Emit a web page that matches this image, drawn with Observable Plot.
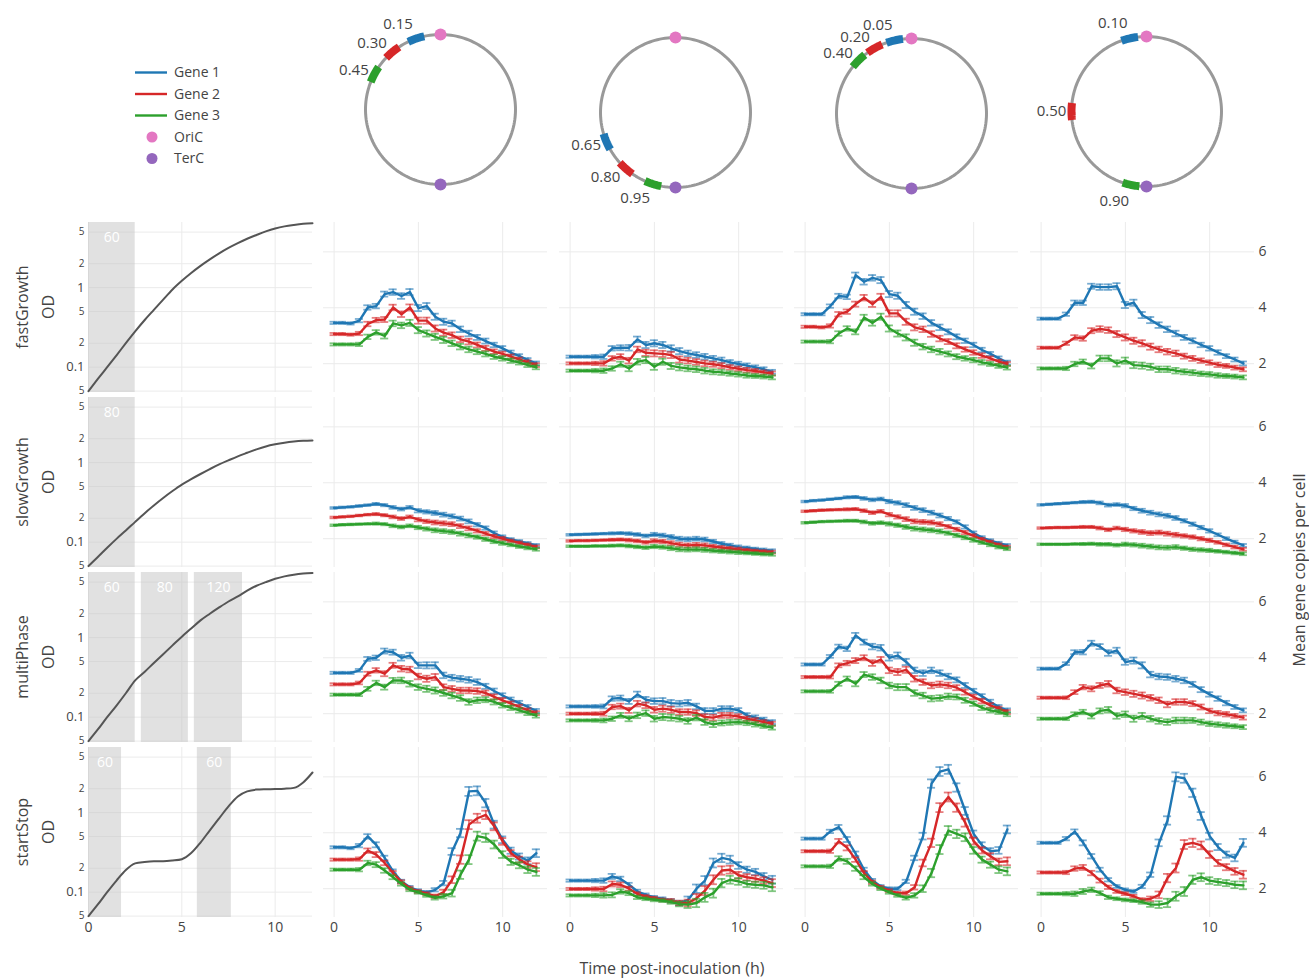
<!DOCTYPE html>
<html><head><meta charset="utf-8">
<script src="https://cdn.jsdelivr.net/npm/d3@7"></script>
<script src="https://cdn.jsdelivr.net/npm/@observablehq/plot@0.6"></script>
<style>
body{margin:0;background:#fff;font-family:"Open Sans",sans-serif;color:#444}
#root{position:relative;width:1309px;height:979px;overflow:hidden;background:#fff}
.rot{position:absolute;transform:rotate(-90deg);transform-origin:50% 50%;text-align:center;white-space:nowrap;font-size:16px;color:#444}
.title{position:absolute;white-space:nowrap;font-size:16px;line-height:16px;color:#444;transform:translate(-50%,-50%)}
</style></head><body><div id="root"></div>
<script>
// ---------------- DATA ----------------
const times = [0,0.5,1,1.5,2,2.5,3,3.5,4,4.5,5,5.5,6,6.5,7,7.5,8,8.5,9,9.5,10,10.5,11,11.5,12];
const strains = ["fastGrowth","slowGrowth","multiPhase","startStop"];
const genes = ["Gene 1","Gene 2","Gene 3"];
const geneColors = ["#1f77b4","#d62728","#2ca02c"];
const markerNames = ["OriC","TerC"];
const markerColors = ["#e377c2","#9467bd"];
const geneLociLabels = [["0.15","0.30","0.45"],["0.65","0.80","0.95"],["0.05","0.20","0.40"],["0.10","0.50","0.90"]];
const geneLociAngle = [[19,40,62],[113,138.5,162.5],[13,29.5,45],[13,90,168]];
const timeTicks = [0,5,10];
const copyTicks = [2,4,6];
const odTickValues = [0.05,0.1,0.2,0.5,1,2,5];
const odTickLabels = ["5","0.1","2","5","1","2","5"];
const odMajorTicks = [0.1,1];

const odFastGrowth = [0.05,0.071,0.1,0.141,0.2,0.282,0.389,0.525,0.708,0.95,1.22,1.53,1.88,2.27,2.7,3.16,3.63,4.12,4.6,5.1,5.55,5.9,6.15,6.35,6.45];
const odSlowGrowth = [0.05,0.065,0.085,0.11,0.14,0.18,0.23,0.29,0.36,0.44,0.53,0.62,0.72,0.83,0.95,1.07,1.2,1.33,1.47,1.6,1.7,1.78,1.84,1.88,1.9];
const odMultiPhase = [0.05,0.07,0.1,0.14,0.2,0.29,0.37,0.48,0.62,0.8,1.03,1.3,1.65,2.0,2.4,2.85,3.3,3.9,4.5,5.0,5.5,5.9,6.2,6.4,6.5];
const odStartStop = [0.05,0.07,0.1,0.14,0.19,0.23,0.24,0.245,0.245,0.25,0.26,0.31,0.42,0.6,0.85,1.2,1.6,1.85,1.95,1.97,1.98,2.0,2.05,2.4,3.2];

const phasesFastGrowth = [{start:0,end:2.5,label:"60"}];
const phasesSlowGrowth = [{start:0,end:2.5,label:"80"}];
const phasesMultiPhase = [{start:0,end:2.5,label:"60"},{start:2.83,end:5.35,label:"80"},{start:5.67,end:8.25,label:"120"}];
const phasesStartStop = [{start:0,end:1.77,label:"60"},{start:5.83,end:7.65,label:"60"}];

const errFastGrowth = [0.04,0.04,0.04,0.06,0.08,0.08,0.09,0.1,0.1,0.11,0.11,0.11,0.11,0.11,0.1,0.1,0.1,0.09,0.09,0.08,0.08,0.08,0.07,0.07,0.07];
const errSlowGrowth = [0.03,0.03,0.03,0.03,0.03,0.04,0.04,0.05,0.05,0.05,0.06,0.06,0.07,0.07,0.07,0.07,0.07,0.06,0.06,0.06,0.06,0.05,0.05,0.05,0.05];
const errMultiPhase = [0.04,0.04,0.04,0.05,0.07,0.08,0.09,0.09,0.1,0.1,0.1,0.11,0.11,0.1,0.1,0.1,0.1,0.1,0.09,0.09,0.08,0.08,0.08,0.07,0.07];
const errStartStop = [0.04,0.04,0.04,0.06,0.08,0.09,0.08,0.07,0.06,0.05,0.05,0.05,0.06,0.08,0.12,0.15,0.16,0.16,0.15,0.14,0.12,0.11,0.11,0.12,0.14];

// mean gene copies per cell: [layout][gene][time]
const copiesFastGrowth = [
 [[3.46,3.46,3.44,3.54,4.01,4.06,4.49,4.56,4.42,4.56,3.99,4.06,3.68,3.50,3.44,3.23,3.08,2.94,2.81,2.67,2.55,2.39,2.27,2.13,2.01],
  [3.06,3.06,3.04,3.08,3.42,3.56,3.58,4.01,3.77,4.01,3.54,3.54,3.26,3.11,3.02,2.87,2.79,2.67,2.55,2.43,2.35,2.25,2.15,2.05,1.95],
  [2.69,2.69,2.69,2.69,2.96,3.12,2.99,3.44,3.37,3.46,3.20,3.08,2.96,2.85,2.73,2.61,2.51,2.43,2.35,2.25,2.19,2.11,2.04,1.95,1.87]],
 [[2.25,2.25,2.25,2.25,2.25,2.55,2.57,2.57,2.87,2.67,2.73,2.67,2.55,2.45,2.37,2.31,2.25,2.19,2.13,2.05,1.99,1.93,1.87,1.80,1.71],
  [2.01,2.01,2.01,2.01,2.01,2.19,2.25,2.11,2.51,2.39,2.37,2.35,2.31,2.15,2.11,2.06,2.01,1.98,1.93,1.87,1.82,1.77,1.74,1.69,1.65],
  [1.75,1.75,1.75,1.75,1.75,1.83,1.98,1.83,2.07,2.13,1.89,2.07,1.92,1.87,1.83,1.80,1.75,1.71,1.69,1.65,1.62,1.58,1.56,1.54,1.51]],
 [[3.77,3.77,3.77,4.06,4.42,4.39,5.17,4.93,5.07,4.99,4.49,4.43,4.10,3.86,3.70,3.46,3.30,3.14,2.96,2.82,2.67,2.49,2.35,2.19,2.04],
  [3.32,3.32,3.30,3.35,3.77,3.86,4.13,4.36,4.13,4.39,3.80,3.80,3.50,3.30,3.23,3.06,2.90,2.79,2.64,2.51,2.40,2.29,2.19,2.07,1.99],
  [2.79,2.79,2.79,2.79,3.08,3.26,3.14,3.65,3.46,3.68,3.26,3.08,2.94,2.75,2.61,2.51,2.43,2.35,2.25,2.19,2.13,2.05,1.99,1.92,1.86]],
 [[3.61,3.61,3.61,3.77,4.18,4.18,4.77,4.74,4.74,4.77,4.10,4.18,3.74,3.56,3.38,3.23,3.08,2.94,2.82,2.67,2.55,2.40,2.27,2.15,2.01],
  [2.57,2.57,2.57,2.73,2.94,2.90,3.18,3.24,3.20,3.06,2.94,2.82,2.73,2.61,2.51,2.43,2.37,2.27,2.19,2.11,2.04,1.96,1.92,1.86,1.80],
  [1.83,1.83,1.83,1.83,1.99,2.07,1.92,2.19,2.19,2.01,2.11,1.95,1.93,1.89,1.80,1.80,1.75,1.71,1.68,1.64,1.62,1.58,1.56,1.54,1.51]]
];
const copiesSlowGrowth = [
 [[3.10,3.12,3.14,3.17,3.20,3.24,3.20,3.12,3.06,3.12,3.00,2.96,2.92,2.86,2.80,2.72,2.62,2.50,2.38,2.20,2.06,1.97,1.90,1.83,1.76],
  [2.76,2.78,2.80,2.83,2.86,2.88,2.84,2.78,2.72,2.78,2.68,2.62,2.58,2.55,2.52,2.45,2.37,2.28,2.18,2.08,2.00,1.92,1.85,1.78,1.71],
  [2.48,2.50,2.51,2.52,2.53,2.54,2.52,2.46,2.42,2.46,2.40,2.35,2.30,2.27,2.24,2.18,2.12,2.06,1.98,1.90,1.84,1.78,1.72,1.67,1.62]],
 [[2.14,2.15,2.16,2.17,2.18,2.19,2.20,2.18,2.15,2.10,2.15,2.12,2.06,2.00,1.98,2.00,1.97,1.90,1.82,1.76,1.70,1.67,1.63,1.60,1.57],
  [1.92,1.93,1.93,1.94,1.95,1.96,1.97,1.95,1.92,1.87,1.92,1.90,1.84,1.79,1.76,1.78,1.76,1.72,1.68,1.65,1.62,1.59,1.56,1.54,1.52],
  [1.73,1.73,1.73,1.74,1.74,1.75,1.76,1.74,1.71,1.68,1.72,1.70,1.66,1.62,1.61,1.62,1.60,1.57,1.55,1.53,1.51,1.49,1.47,1.45,1.44]],
 [[3.33,3.36,3.38,3.41,3.44,3.48,3.49,3.44,3.39,3.42,3.33,3.28,3.20,3.10,3.02,2.93,2.83,2.72,2.60,2.42,2.20,2.04,1.93,1.84,1.76],
  [2.98,3.00,3.02,3.03,3.04,3.05,3.06,3.00,2.93,2.98,2.86,2.78,2.70,2.62,2.60,2.58,2.52,2.43,2.33,2.22,2.10,1.98,1.88,1.78,1.70],
  [2.57,2.59,2.61,2.62,2.63,2.64,2.64,2.60,2.55,2.57,2.53,2.48,2.42,2.36,2.33,2.30,2.26,2.20,2.12,2.04,1.95,1.86,1.78,1.70,1.64]],
 [[3.21,3.23,3.25,3.27,3.29,3.31,3.32,3.28,3.20,3.22,3.18,3.08,3.00,2.93,2.87,2.82,2.74,2.64,2.52,2.40,2.28,2.14,2.00,1.88,1.76],
  [2.38,2.39,2.40,2.40,2.41,2.42,2.42,2.38,2.32,2.38,2.33,2.28,2.24,2.20,2.22,2.18,2.14,2.10,2.06,2.00,1.94,1.87,1.78,1.70,1.62],
  [1.80,1.80,1.80,1.80,1.81,1.81,1.82,1.80,1.80,1.77,1.80,1.78,1.75,1.72,1.69,1.68,1.70,1.66,1.62,1.60,1.58,1.55,1.52,1.49,1.46]]
];
const copiesMultiPhase = [
 [[3.46,3.46,3.46,3.55,3.96,4.00,4.24,4.20,4.00,4.08,3.73,3.73,3.73,3.37,3.29,3.25,3.21,3.13,2.98,2.81,2.65,2.50,2.38,2.24,2.10],
  [3.05,3.05,3.05,3.10,3.43,3.55,3.43,3.73,3.61,3.58,3.33,3.25,3.31,2.95,2.89,2.83,2.83,2.81,2.74,2.60,2.48,2.36,2.24,2.12,2.02],
  [2.68,2.68,2.68,2.68,2.89,3.10,2.95,3.19,3.19,3.07,2.95,2.89,2.83,2.74,2.65,2.56,2.42,2.48,2.50,2.42,2.30,2.21,2.12,2.02,1.93]],
 [[2.26,2.26,2.26,2.26,2.26,2.54,2.56,2.44,2.69,2.50,2.45,2.45,2.38,2.36,2.39,2.26,2.10,2.10,2.18,2.18,2.12,1.94,1.86,1.79,1.70],
  [2.00,2.00,2.00,2.00,2.00,2.24,2.27,2.12,2.36,2.30,2.14,2.18,2.14,2.06,2.06,2.02,1.88,1.86,1.94,1.94,1.90,1.82,1.76,1.70,1.64],
  [1.76,1.76,1.76,1.76,1.76,1.82,1.94,1.82,1.94,2.02,1.82,1.88,1.86,1.82,1.74,1.86,1.70,1.62,1.67,1.69,1.70,1.67,1.62,1.56,1.50]],
 [[3.76,3.76,3.76,4.05,4.40,4.32,4.80,4.56,4.40,4.36,4.00,4.08,3.85,3.55,3.45,3.55,3.45,3.33,3.21,3.01,2.81,2.62,2.42,2.24,2.12],
  [3.31,3.31,3.31,3.31,3.73,3.81,3.90,4.00,3.81,3.93,3.55,3.49,3.57,3.25,3.13,3.01,3.05,3.01,2.93,2.77,2.60,2.45,2.30,2.18,2.06],
  [2.80,2.80,2.80,2.80,3.07,3.25,3.07,3.40,3.31,3.19,3.01,2.95,2.95,2.74,2.65,2.54,2.56,2.62,2.60,2.48,2.36,2.21,2.12,2.06,1.98]],
 [[3.61,3.61,3.61,3.79,4.20,4.20,4.52,4.40,4.17,4.26,3.85,3.90,3.73,3.40,3.33,3.31,3.25,3.19,3.05,2.86,2.69,2.54,2.38,2.24,2.12],
  [2.57,2.57,2.57,2.57,2.77,2.95,2.89,3.01,3.07,2.83,2.77,2.71,2.65,2.57,2.48,2.33,2.42,2.42,2.36,2.24,2.10,2.02,1.98,1.92,1.86],
  [1.82,1.82,1.82,1.82,1.98,2.06,1.92,2.10,2.14,1.92,1.98,1.82,1.92,1.82,1.74,1.70,1.76,1.76,1.76,1.70,1.64,1.61,1.58,1.55,1.52]]
];
const copiesStartStop = [
 [[3.48,3.48,3.45,3.54,3.87,3.57,3.10,2.62,2.26,2.05,1.93,1.87,1.96,2.20,3.33,3.99,5.48,5.50,5.06,4.29,3.75,3.36,3.15,3.00,3.27],
  [3.04,3.04,3.04,3.06,3.36,3.22,2.92,2.56,2.24,2.02,1.90,1.82,1.73,1.88,2.32,3.04,4.29,4.52,4.64,4.23,3.69,3.27,3.04,2.86,2.77],
  [2.68,2.68,2.68,2.68,2.92,2.86,2.65,2.41,2.17,1.96,1.87,1.76,1.67,1.73,1.84,2.50,3.04,3.88,3.82,3.58,3.22,2.96,2.84,2.68,2.60]],
 [[2.29,2.29,2.29,2.29,2.29,2.44,2.35,2.14,1.90,1.78,1.69,1.64,1.57,1.49,1.60,2.00,2.29,2.92,3.10,3.04,2.83,2.68,2.60,2.44,2.32],
  [1.99,1.99,1.99,1.99,1.99,2.17,2.14,2.00,1.81,1.72,1.66,1.60,1.57,1.49,1.49,1.66,1.93,2.32,2.65,2.68,2.48,2.41,2.36,2.29,2.20],
  [1.76,1.76,1.76,1.76,1.76,1.78,1.90,1.84,1.69,1.64,1.60,1.57,1.52,1.45,1.43,1.49,1.69,1.84,2.20,2.32,2.26,2.17,2.14,2.12,2.05]],
 [[3.79,3.79,3.79,4.05,4.20,3.76,3.25,2.68,2.29,2.08,2.00,2.00,2.26,3.10,3.88,5.76,6.19,6.27,5.62,4.78,3.96,3.55,3.34,3.37,4.12],
  [3.34,3.34,3.34,3.34,3.70,3.46,3.04,2.56,2.23,2.05,1.93,1.84,1.84,2.05,2.92,3.64,4.90,5.28,4.90,4.36,3.70,3.37,3.16,2.96,2.98],
  [2.80,2.80,2.80,2.80,3.08,2.98,2.72,2.41,2.17,2.00,1.87,1.76,1.67,1.76,2.00,2.56,3.40,4.08,3.96,3.84,3.37,3.04,2.86,2.68,2.62]],
 [[3.64,3.64,3.64,3.79,4.04,3.64,3.16,2.68,2.32,2.08,1.96,1.90,2.08,2.50,3.64,4.44,6.00,5.95,5.43,4.60,3.88,3.49,3.22,3.10,3.64],
  [2.58,2.58,2.58,2.58,2.72,2.76,2.56,2.29,2.05,1.90,1.82,1.73,1.60,1.64,1.78,2.38,2.74,3.58,3.64,3.55,3.22,2.92,2.77,2.62,2.50],
  [1.82,1.82,1.82,1.82,1.82,1.90,1.96,1.84,1.69,1.64,1.60,1.57,1.52,1.43,1.43,1.49,1.73,1.90,2.32,2.41,2.29,2.24,2.20,2.14,2.12]]
];

const odByRow = [odFastGrowth, odSlowGrowth, odMultiPhase, odStartStop];
const phasesByRow = [phasesFastGrowth, phasesSlowGrowth, phasesMultiPhase, phasesStartStop];
const errByRow = [errFastGrowth, errSlowGrowth, errMultiPhase, errStartStop];
const copiesByRow = [copiesFastGrowth, copiesSlowGrowth, copiesMultiPhase, copiesStartStop];

// ---------------- LAYOUT ----------------
const root = document.getElementById("root");
const colLeft = [88, 323, 559, 794, 1030];
const panelW = 224;
const rowTop = [222, 397, 572, 747];
const panelH = 170;
const GRID = "#ebebeb";
const FONT = "'Open Sans', sans-serif";
const TICK = 14;
const baseStyle = {fontFamily: FONT, fontSize: "13px", color: "#444", background: "transparent", overflow: "visible"};

function place(node, left, top) {
  node.style.position = "absolute";
  node.style.left = left + "px";
  node.style.top = top + "px";
  node.style.maxWidth = "none";
  root.appendChild(node);
}

// copies panels
function copiesPanel(r, c) {
  const isBottom = r === 3, isRight = c === 3;
  const err = errByRow[r];
  const marks = [
    Plot.gridX({ticks: timeTicks, stroke: GRID, strokeOpacity: 1}),
    Plot.gridY({ticks: copyTicks, stroke: GRID, strokeOpacity: 1})
  ];
  copiesByRow[r][c].forEach((vals, g) => {
    const d = vals.map((v, i) => ({t: times[i], v, e: err[i]}));
    const col = geneColors[g];
    const eb = {stroke: col, strokeOpacity: 0.6, strokeWidth: 1.8};
    marks.push(Plot.ruleX(d, {x: "t", y1: p => p.v - p.e, y2: p => p.v + p.e, ...eb}));
    marks.push(Plot.ruleY(d, {y: p => p.v + p.e, x1: p => p.t - 0.24, x2: p => p.t + 0.24, ...eb}));
    marks.push(Plot.ruleY(d, {y: p => p.v - p.e, x1: p => p.t - 0.24, x2: p => p.t + 0.24, ...eb}));
    marks.push(Plot.line(d, {x: "t", y: "v", stroke: col, strokeWidth: 2.4}));
  });
  if (isBottom) marks.push(Plot.axisX({ticks: timeTicks, tickSize: 0, tickPadding: 5, fontSize: TICK, label: null}));
  if (isRight) marks.push(Plot.axisY({ticks: copyTicks, anchor: "right", tickSize: 0, tickPadding: 4, fontSize: TICK, tickFormat: d3.format("d"), label: null}));
  const p = Plot.plot({
    width: panelW + (isRight ? 24 : 0),
    height: panelH + (isBottom ? 30 : 0),
    marginTop: 0, marginLeft: 0,
    marginRight: isRight ? 24 : 0,
    marginBottom: isBottom ? 30 : 0,
    style: baseStyle,
    x: {domain: [-0.63, 12.66], ...(isBottom ? {} : {axis: null})},
    y: {domain: [0.97, 7.05], ...(isRight ? {} : {axis: null})},
    marks
  });
  place(p, colLeft[c + 1], rowTop[r]);
}

// OD panels
function odPanel(r) {
  const isBottom = r === 3;
  const d = odByRow[r].map((v, i) => ({t: times[i], od: v}));
  const fmt = v => odTickLabels[odTickValues.indexOf(v)];
  const marks = [
    Plot.gridX({ticks: timeTicks, stroke: GRID, strokeOpacity: 1}),
    Plot.gridY({ticks: odTickValues, stroke: GRID, strokeOpacity: 1}),
    Plot.rect(phasesByRow[r], {x1: "start", x2: "end", fill: "#c4c4c4", fillOpacity: 0.5}),
    Plot.text(phasesByRow[r], {x: p => (p.start + p.end) / 2, text: "label", frameAnchor: "top", dy: 10, fill: "white", fontSize: 14}),
    Plot.line(d, {x: "t", y: "od", stroke: "#555", strokeWidth: 2, curve: "monotone-x"}),
    Plot.axisY({ticks: odTickValues.filter(v => !odMajorTicks.includes(v)), anchor: "left", tickSize: 0, tickPadding: 4, fontSize: 10, tickFormat: fmt, label: null}),
    Plot.axisY({ticks: odMajorTicks, anchor: "left", tickSize: 0, tickPadding: 4, fontSize: 13, tickFormat: fmt, label: null})
  ];
  if (isBottom) marks.push(Plot.axisX({ticks: timeTicks, tickSize: 0, tickPadding: 5, fontSize: TICK, label: null}));
  const p = Plot.plot({
    width: panelW + 30,
    height: panelH + (isBottom ? 30 : 0),
    marginTop: 0, marginRight: 0, marginLeft: 30,
    marginBottom: isBottom ? 30 : 0,
    style: baseStyle,
    x: {domain: [0, 12], ...(isBottom ? {} : {axis: null})},
    y: {type: "log", domain: [0.048, 6.6]},
    marks
  });
  place(p, colLeft[0] - 30, rowTop[r]);
}

// chromosome circles
const circleCenters = [[440, 109], [675, 111.5], [911, 112.5], [1146, 110.5]];
const R = 75;
function circlePanel(c) {
  const W = 260, H = 214;
  const rad = a => a * Math.PI / 180;
  const ring = d3.range(0, 361, 2).map(a => ({x: Math.sin(rad(a)), y: Math.cos(rad(a))}));
  const genePts = geneLociAngle[c].flatMap((ang, g) =>
    d3.range(-6.5, 6.51, 1).map(o => ({g, x: -Math.sin(rad(ang + o)), y: Math.cos(rad(ang + o))})));
  const lab = geneLociAngle[c].map((ang, g) => {
    const a = ang + 8 * Math.cos(rad(ang));
    const k = 95 / R;
    return {g, text: geneLociLabels[c][g], x: -k * Math.sin(rad(a)), y: k * Math.cos(rad(a))};
  });
  const ends = markerNames.map((n, i) => ({n, x: 0, y: i === 0 ? 1 : -1}));
  const p = Plot.plot({
    width: W, height: H, margin: 0,
    style: baseStyle,
    x: {domain: [-W / 2 / R, W / 2 / R], axis: null},
    y: {domain: [-H / 2 / R, H / 2 / R], axis: null},
    marks: [
      Plot.line(ring, {x: "x", y: "y", stroke: "#999", strokeWidth: 3}),
      Plot.line(genePts, {x: "x", y: "y", z: "g", stroke: p => geneColors[p.g], strokeWidth: 8, strokeLinecap: "butt", strokeLinejoin: "miter"}),
      Plot.dot(ends, {x: "x", y: "y", r: 6, fill: d => markerColors[markerNames.indexOf(d.n)], stroke: "none"}),
      Plot.text(lab, {x: "x", y: "y", text: "text", textAnchor: "middle", fontSize: 15, fill: "#444"})
    ]
  });
  place(p, circleCenters[c][0] - W / 2, circleCenters[c][1] - H / 2);
}

for (let c = 0; c < 4; c++) circlePanel(c);
for (let r = 0; r < 4; r++) {
  odPanel(r);
  for (let c = 0; c < 4; c++) copiesPanel(r, c);
}

// legend
const legItems = genes.map((g, i) => ({name: g, color: geneColors[i], kind: "line"}))
  .concat(markerNames.map((m, i) => ({name: m, color: markerColors[i], kind: "dot"})));
const leg = d3.create("svg").attr("width", 130).attr("height", 120).style("font-family", FONT);
legItems.forEach((it, i) => {
  const y = 12.5 + i * 21.5;
  if (it.kind === "line") leg.append("line").attr("x1", 10).attr("x2", 42).attr("y1", y).attr("y2", y).attr("stroke", it.color).attr("stroke-width", 2.4);
  else leg.append("circle").attr("cx", 27).attr("cy", y).attr("r", 5.5).attr("fill", it.color);
  leg.append("text").attr("x", 49).attr("y", y).attr("dy", "0.35em").attr("font-size", 14).attr("fill", "#444").text(it.name);
});
place(leg.node(), 125, 60);

// row labels
strains.forEach((s, r) => {
  const div = document.createElement("div");
  div.className = "rot";
  div.style.width = "200px";
  div.style.height = "52px";
  div.style.lineHeight = "26px";
  div.style.left = (35 - 100) + "px";
  div.style.top = (rowTop[r] + panelH / 2 - 26) + "px";
  div.innerHTML = s + "<br>OD";
  root.appendChild(div);
});

// axis titles
const yt = document.createElement("div");
yt.className = "rot";
yt.style.width = "300px"; yt.style.height = "22px"; yt.style.lineHeight = "22px";
yt.style.left = (1299 - 150) + "px";
yt.style.top = ((rowTop[0] + rowTop[3] + panelH) / 2 - 11) + "px";
yt.textContent = "Mean gene copies per cell";
root.appendChild(yt);

const xt = document.createElement("div");
xt.className = "title";
xt.style.left = "672px"; xt.style.top = "968px";
xt.textContent = "Time post-inoculation (h)";
root.appendChild(xt);
</script></body></html>
